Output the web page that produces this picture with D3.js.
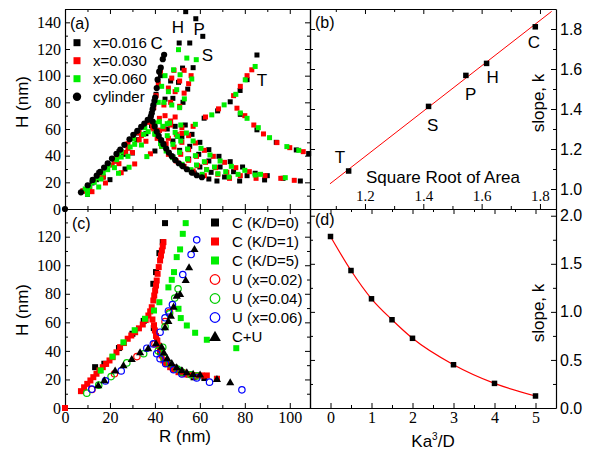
<!DOCTYPE html>
<html><head><meta charset="utf-8">
<script src="https://cdn.jsdelivr.net/npm/d3@7"></script>
<style>body{margin:0;background:#fff}</style>
</head><body>
<svg id="chart" width="594" height="451"></svg>
<script>
// ---------- Panel (a): H vs R, shapes C,H,P,S,T ----------
const cylinder = [[0,0],[7.1,12.5],[10.1,17.8],[12.3,21.8],[14.1,25],[15.6,27.8],[17.4,31.1],[19,34.3],[20.9,37.8],[22.9,41.3],[24.6,44.6],[26.4,48.1],[28.7,52.3],[30.4,55.6],[32.2,58.6],[33.9,61.6],[35.3,64.1],[36.8,66.9],[38.2,69.4],[38.6,71.9],[39,74.9],[39.3,77.9],[39.8,81.1],[40.1,83.6],[40.8,90.7],[41.2,97],[41.9,103],[42.6,106],[43.5,112.4],[44.1,115.7],[39,65.6],[39.9,61.9],[40.8,58.1],[41.7,54.8],[42.8,51.6],[43.8,48.6],[45,45.3],[46.2,42.3],[47.5,39.6],[49,36.8],[50.6,34.3],[52.4,32.1],[54.2,29.8],[56.4,27.3],[58.6,25.3],[60.9,23.8]];
const a016 = [
 [8,13.5],[15,27],[24,43],[32,57],[40.5,86],[42.5,100],[44.5,47],[48,39],[52,33],[57.5,27],[64,22.5],[67.6,21],
 [12,19.5],[22,36],[32,52],[38.5,62.5],[44.5,82.4],[47,96],[50.8,124.5],[53.7,148],[45.5,60],[48,51],[51,44],[55,37.5],[60,31.5],[65,27.5],[71,24],[77.7,21],
 [14,22],[26,41],[36,56.5],[48,83],[50.5,95],[52.3,105.7],[55.5,124.5],[58.2,142.7],[49,62],[52,54],[55.5,47],[59.5,41],[64,36],[69,31.5],[75,28],[81,25],[88.8,21.8],
 [17,24],[30,42],[42,59],[52.5,80],[54.6,89.9],[57,106],[61.3,129.5],[53.5,63],[56.5,56],[60,50],[64,44.5],[68.5,39.5],[73.5,35.5],[79,31.5],[84.6,26.8],[90,25],[97,23],[104.7,21],
 [10,11],[20,22],[26.7,30],[40,43.5],[50,54.5],[61.9,68.1],[67.9,73.6],[73.5,80.4],[77.9,88.9],[81,97],[85.4,115.5],[78,71],[85.4,59.4],[94,50],[102.9,44.3],[108.4,41.6]
];
const a030 = [
 [8,13.5],[13,22],[18,31],[23,40],[28,49],[33,57.5],[37,65],[39.5,76],[40.5,85],[41.5,94],[42.5,103],[39.5,60],[41,53],[43,47],[46,41],[49.5,36],[53,32],[57,28.5],[62,25],
 [10,16],[16,26],[22,36],[28,45.5],[34,55],[39,63.5],[42,68],[44,78],[46,90.7],[47.5,98.2],[48.5,104],[44,60],[46,53],[48.5,46.5],[51.5,41],[55,36.5],[59,32.5],[63,29.5],[68,26],[73.2,23],
 [9,14],[15,23.5],[21,33],[27,42.4],[33,51.8],[39,61],[44.5,70],[47,80],[49,88],[51,96],[53,104],[47,63],[49.5,56],[52,50],[55,44.5],[58.5,39.5],[62.5,35],[67,31],[72,27.5],[78,25],[85,23],
 [11,15.5],[17,24],[24,34],[30,42.3],[36,50.8],[42,59],[47,66],[49,69],[51,77],[53,86.9],[55,94],[56.1,100],[52,61],[55,55],[58,49.5],[62,44],[66,39.5],[71,35],[76,31],[82,28],[89,25],[96,23],[102,21.5],
 [12,13],[18,19.5],[25,27.2],[31,33.8],[38,41.4],[45,49],[52,56.7],[57,62],[62.5,69],[68.3,75.1],[75,85],[78,92],[81,100],[83.1,104.4],[76.5,75.6],[80,70],[84,63],[88.3,56.3],[94.3,49.8],[100,46],[106,43]
];
const a060 = [
 [9,15],[14,23.5],[19.5,33],[25,43],[30.5,52.5],[35.5,61],[41.5,80],[43,92],[44.5,100],[40,56],[42.5,49],[45,43.5],[48,38.5],[52,33.5],[56,29.5],[61,26],
 [11,17],[17,27],[23,37],[29,46.5],[35,56],[40,64.5],[44,80],[46,88],[48.3,104.4],[50.5,119.5],[43.5,62],[45.5,55],[48,48.5],[51,42.5],[54.5,37.5],[58.5,33],[63,29.5],[68,26.5],[73,24],
 [13,20],[19,29.5],[25,39],[31,48.5],[37,58],[42,65.5],[47.5,78],[49.7,89.5],[51.2,100.7],[54.2,113.2],[46.5,64.5],[49,57.5],[51.5,51],[54.5,45],[58,40],[62,35.5],[66.5,31.5],[71.5,28],[77,26],[84.6,25.5],
 [10,14],[16,22.5],[22,31],[28,39.5],[34,48],[40,56.5],[45.5,64],[51,76],[53.1,82.6],[56.4,97.5],[58.4,112],[51.5,63],[54,57],[57,51],[60.5,45.5],[64.5,40.5],[69,36],[74,32],[80,29],[87,26],[98,23.5],
 [10,11],[15,16.5],[23.8,26.8],[28.5,31.3],[36.4,39.3],[43,47],[50,54.5],[58,63.5],[65.3,70.6],[70.8,78.1],[76,86],[80.2,96.9],[84.6,106.9],[78,72],[81,68],[86,61],[91,53.5],[98.7,46.8],[104,44]
];
const aLabels = [["C",40.8,124.5],["H",50.2,136.5],["P",59.7,135],["S",63.4,115.7],["T",87.6,97]];
const aLegend = ["x=0.016","x=0.030","x=0.060","cylinder"];

// ---------- Panel (b): slope vs sqrt(area) ----------
const bShapes = ["C","H","P","S","T"];
const bX = [1.784,1.617,1.546,1.418,1.144];
const bY = [1.811,1.628,1.568,1.413,1.090];
const bLabelPos = [[1.779,1.7365],[1.638,1.5615],[1.562,1.4735],[1.432,1.32],[1.114,1.1615]];
const bFit = [[1.08,1.026],[1.84,1.888]];

// ---------- Panel (c) ----------
const cK0 = [[13.4,28.6],[17.5,31],[24,42],[30,52],[35,61],[39.3,87],[40.5,95.2],[42,108.5],[43.5,116.2],[44.5,129.5],[39.5,56],[41,47],[42.3,39.1],[45.3,31],[48,28.5],[51.2,26.3],[55,23.5],[57.2,21.5],[62,21],[67.6,20.4]];
const cK1 = [[0,0],[7.1,11.8],[8.5,14.5],[9.9,16.9],[11.3,19.3],[12.6,21.6],[14,24],[15.3,26.3],[16.8,28.6],[18.3,30.9],[19.8,33.3],[21.2,35.6],[22.9,39],[24.5,42.6],[26.2,45.5],[27.9,48.5],[29.5,50.8],[31.2,53.1],[32.9,55.8],[34.6,58.5],[35.9,61.6],[37.1,64.8],[37.9,67.7],[38.6,70.6],[39.3,75.3],[39.7,78.8],[40.1,82.3],[40.5,85.8],[40.8,89.3],[41.2,94],[41.7,98.7],[42.3,103.3],[42.7,106.8],[43.1,110.3],[43.5,113.3],[43.8,116.2],[38.9,62],[39.6,58],[40,54.3],[40.5,50.5],[41,47.3],[41.6,43.7],[42.3,40.3],[43,36.8],[43.8,33.3],[45.2,31],[46.8,28.6],[48.6,26.8],[50.5,25.1],[52.3,24.2],[54.2,23.5],[56.4,23.1],[58.6,22.8],[60.8,22.8],[63.1,22.8],[67.6,20.4]];
const cK5 = [[15.9,26.3],[21.1,36],[26,46],[31,54.5],[35.6,62.5],[39.6,68.3],[42,74.1],[46,84.5],[47.5,89.8],[48.5,95.2],[49.7,105.7],[51.2,111.1],[52.4,122],[53.7,129.5],[50.5,69.5],[51.5,63],[54.2,57.8],[57.9,52.7],[63.1,47.8],[76.2,41.9]];
const cU02 = [[12,13],[22,24],[32,36],[40,45],[44.5,60.5],[46.5,67],[45,32],[48,28],[53,24.5],[58,22.5]];
const cU04 = [[9.7,10.4],[15,16],[20.5,22],[27.5,31.6],[35,38],[43.5,42.6],[44.5,57],[46.5,66],[48.8,77],[50.3,83.5],[41.5,40],[44,35],[46.5,31],[50,27.3],[52,25.1],[56,23.3],[59,22.5]];
const cU06 = [[11.9,13.2],[18,19],[25,26],[36.4,41.9],[39.3,44.9],[42.3,53.1],[44.5,63.2],[46,68],[47.8,72.5],[52.4,93.5],[56.1,107.5],[58.6,117.8],[40.8,38],[42.3,34.5],[44.8,31],[48.3,26.8],[52,23.9],[58.6,21.1],[64.3,18.1],[78.7,12.7]];
const cCU = [[14.8,16],[17.5,19.5],[22.3,26.3],[26,30],[29.7,34.4],[33.4,39.1],[37,42],[40.5,45.4],[44.5,56.6],[46,61],[47.1,64.8],[48.3,71.1],[49.7,78.8],[51.2,80],[53.7,89.8],[55.2,98.7],[57.6,111.5],[43,43],[44,39],[45.5,35],[47.5,31.5],[49.7,28.6],[52,26.5],[54.2,25.1],[57,24],[60.1,23.5],[67.6,20.4],[73.5,18.1]];
const cLegend = ["C (K/D=0)","C (K/D=1)","C (K/D=5)","U (x=0.02)","U (x=0.04)","U (x=0.06)","C+U"];

// ---------- Panel (d) ----------
const dX = [0,0.5,1,1.5,2,3,4,5];
const dY = [1.784,1.430,1.136,0.918,0.725,0.450,0.256,0.125];

// ---------- drawing ----------
const svg = d3.select("#chart");
const SERIF = "'Liberation Serif','Times New Roman',serif";
const SANS = "'Liberation Sans',Arial,sans-serif";

const xa = d3.scaleLinear([0,109],[65,310]);
const ya = d3.scaleLinear([0,150],[209,9]);
const xb = d3.scaleLinear([1.0115,1.855],[310,556]);
const yb = d3.scaleLinear([0.9,1.9],[209,9]);
const xc = d3.scaleLinear([0,109],[65,310]);
const yc = d3.scaleLinear([0,139.4],[408,209]);
const xd = d3.scaleLinear([-0.5,5.5],[310,556]);
const yd = d3.scaleLinear([0,2.07],[408,209]);

function rng(a,b,s){const o=[];for(let v=a;v<=b+1e-9;v+=s)o.push(+v.toFixed(4));return o;}
function inDom(sc,vals){const d=sc.domain();return vals.filter(v=>v>=Math.min(...d)-1e-9&&v<=Math.max(...d)+1e-9);}

// dir: -1 => ticks point inward (away from labels); +1 => ticks toward label side
function axis(gen, sc, pos, major, minor, fmt, font, fsize, pad, dir){
  const s = dir||-1;
  const g = svg.append("g").attr("transform",pos);
  const a = gen(sc).tickValues(inDom(sc,major)).tickSize(5*s).tickSizeOuter(0).tickPadding(pad||3)
     .tickFormat(fmt||(()=>""));
  g.call(a);
  g.attr("font-family",font||SERIF).attr("font-size",fsize||16);
  g.selectAll("text").attr("fill","#000");
  g.selectAll("line").attr("stroke","#000");
  g.select(".domain").attr("stroke","#000").attr("stroke-width",1.2);
  if(minor){
    const g2 = svg.append("g").attr("transform",pos);
    g2.call(gen(sc).tickValues(inDom(sc,minor)).tickSize(3*s).tickSizeOuter(0).tickFormat(()=>""));
    g2.select(".domain").remove();
    g2.selectAll("line").attr("stroke","#000");
  }
  return g;
}

// Panel a axes
axis(d3.axisLeft, ya, "translate(65,0)", rng(0,140,20), rng(10,150,20), d3.format("d"), SERIF, 16, 4);
axis(d3.axisRight, ya, "translate(310,0)", rng(0,140,20), rng(10,150,20));
axis(d3.axisTop, xa, "translate(0,9)", rng(0,100,20), rng(10,110,20));
axis(d3.axisBottom, xa, "translate(0,209)", rng(0,100,20), rng(10,110,20));
// Panel b axes
axis(d3.axisRight, yb, "translate(556,0)", rng(1.0,1.8,0.2), rng(0.9,1.9,0.2), d3.format(".1f"), SANS, 16, 4);
axis(d3.axisLeft, yb, "translate(310,0)", rng(1.0,1.8,0.2), rng(0.9,1.9,0.2));
axis(d3.axisTop, xb, "translate(0,9)", rng(1.2,1.8,0.2), rng(1.1,1.9,0.2));
axis(d3.axisTop, xb, "translate(0,209)", rng(1.2,1.8,0.2), rng(1.1,1.9,0.2), d3.format(".1f"), SERIF, 15, 3, 1);
// Panel c axes
axis(d3.axisLeft, yc, "translate(65,0)", rng(0,120,20), rng(10,130,20), d3.format("d"), SERIF, 16, 4);
axis(d3.axisRight, yc, "translate(310,0)", rng(0,120,20), rng(10,130,20));
axis(d3.axisTop, xc, "translate(0,209)", rng(0,100,20), rng(10,110,20));
axis(d3.axisBottom, xc, "translate(0,408)", rng(0,100,20), rng(10,110,20), d3.format("d"), SERIF, 16, 4);
// Panel d axes
axis(d3.axisRight, yd, "translate(556,0)", rng(0,2,0.5), rng(0.25,2,0.5), d3.format(".1f"), SANS, 16, 4);
axis(d3.axisLeft, yd, "translate(310,0)", rng(0,2,0.5), rng(0.25,2,0.5));
axis(d3.axisTop, xd, "translate(0,209)", rng(0,5,1), rng(0.5,5.5,1));
axis(d3.axisBottom, xd, "translate(0,408)", rng(0,5,1), rng(-0.5,5.5,1), d3.format("d"), SERIF, 16, 4);

// markers
function squares(data, xs, ys, color, size){
  svg.append("g").selectAll("rect").data(data).join("rect")
    .attr("x",d=>xs(d[0])-size/2).attr("y",d=>ys(d[1])-size/2)
    .attr("width",size).attr("height",size).attr("fill",color);
}
function dots(data, xs, ys, color, r, open){
  svg.append("g").selectAll("circle").data(data).join("circle")
    .attr("cx",d=>xs(d[0])).attr("cy",d=>ys(d[1])).attr("r",r)
    .attr("fill",open?"none":color).attr("stroke",open?color:"none").attr("stroke-width",1.2);
}
function tris(data, xs, ys, color, s){
  const sym = d3.symbol(d3.symbolTriangle, s*s*0.45);
  svg.append("g").selectAll("path").data(data).join("path")
    .attr("d",sym).attr("transform",d=>`translate(${xs(d[0])},${ys(d[1])+0.8})`).attr("fill",color);
}

// Panel a
squares(a016, xa, ya, "#000", 5);
squares(a030, xa, ya, "#ff0000", 5);
squares(a060, xa, ya, "#00ee00", 5);
dots(cylinder, xa, ya, "#000", 3.1);
svg.append("g").selectAll("text").data(aLabels).join("text")
  .attr("x",d=>xa(d[1])).attr("y",d=>ya(d[2])+6).attr("text-anchor","middle")
  .attr("font-family",SANS).attr("font-size",17).text(d=>d[0]);
// legend a
const aCol = ["#000","#ff0000","#00ee00","#000"];
aLegend.forEach((t,i)=>{
  const y = 42.7 + i*18;
  if(i<3) svg.append("rect").attr("x",73.5).attr("y",y-3.5).attr("width",7).attr("height",7).attr("fill",aCol[i]);
  else svg.append("circle").attr("cx",77).attr("cy",y).attr("r",4.2).attr("fill","#000");
  svg.append("text").attr("x",93).attr("y",y+5.3).attr("font-family",SANS).attr("font-size",15).text(t);
});

// Panel b
svg.append("path").datum(bFit).attr("d",d3.line().x(d=>xb(d[0])).y(d=>yb(d[1])))
  .attr("stroke","#ff0000").attr("stroke-width",1).attr("fill","none");
squares(bX.map((x,i)=>[x,bY[i]]), xb, yb, "#000", 5.5);
svg.append("g").selectAll("text").data(bShapes).join("text")
  .attr("x",(d,i)=>xb(bLabelPos[i][0])).attr("y",(d,i)=>yb(bLabelPos[i][1])+6)
  .attr("text-anchor","middle").attr("font-family",SANS).attr("font-size",17).text(d=>d);

// Panel c
squares(cK0, xc, yc, "#000", 6);
squares(cK1, xc, yc, "#ff0000", 6);
squares(cK5, xc, yc, "#00ee00", 6);
dots(cU02, xc, yc, "#ff0000", 3.2, true);
dots(cU04, xc, yc, "#00cc00", 3.2, true);
dots(cU06, xc, yc, "#0000ff", 3.2, true);
tris(cCU, xc, yc, "#000", 8);
const cCol = ["#000","#ff0000","#00ee00","#ff0000","#00cc00","#0000ff","#000"];
cLegend.forEach((t,i)=>{
  const y = 222.5 + i*19;
  if(i<3) svg.append("rect").attr("x",211).attr("y",y-4).attr("width",8).attr("height",8).attr("fill",cCol[i]);
  else if(i<6) svg.append("circle").attr("cx",215).attr("cy",y).attr("r",4.8).attr("fill","none").attr("stroke",cCol[i]).attr("stroke-width",1.2);
  else svg.append("path").attr("d",d3.symbol(d3.symbolTriangle,60)).attr("transform",`translate(215,${y+1})`).attr("fill","#000");
  svg.append("text").attr("x",232).attr("y",y+5.3).attr("font-family",SANS).attr("font-size",15).text(t);
});

// Panel d
svg.append("path").datum(dX.map((x,i)=>[x,dY[i]]))
  .attr("d",d3.line().x(d=>xd(d[0])).y(d=>yd(d[1])).curve(d3.curveMonotoneX))
  .attr("stroke","#ff0000").attr("stroke-width",1.2).attr("fill","none");
squares(dX.map((x,i)=>[x,dY[i]]), xd, yd, "#000", 5.5);

// panel tags and titles
const tag=(t,x,y)=>svg.append("text").attr("x",x).attr("y",y).attr("font-family",SANS).attr("font-size",16).text(t);
tag("(a)",70,29); tag("(b)",315,28); tag("(c)",72,229); tag("(d)",315,225);
const title=(t,x,y,rot)=>svg.append("text").attr("transform",`translate(${x},${y})`+(rot?" rotate(-90)":""))
  .attr("text-anchor","middle").attr("font-family",SANS).attr("font-size",17).text(t);
title("H (nm)",28,102,true);
title("H (nm)",28,310,true);
title("R (nm)",185,442,false);
title("slope, k",544,103,true);
title("slope, k",544,313,true);
svg.append("text").attr("x",443).attr("y",183).attr("text-anchor","middle").attr("font-family",SANS).attr("font-size",17).text("Square Root of Area");
const ka = svg.append("text").attr("x",433).attr("y",447).attr("text-anchor","middle").attr("font-family",SANS).attr("font-size",17);
ka.append("tspan").text("Ka");
ka.append("tspan").attr("font-size",10).attr("dy",-7).text("3");
ka.append("tspan").attr("dy",7).text("/D");
</script>
</body></html>
